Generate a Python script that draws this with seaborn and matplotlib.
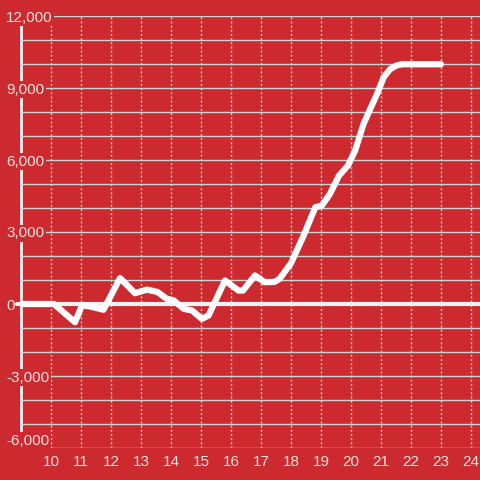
import numpy as np
import pandas as pd
import matplotlib
matplotlib.use("Agg")
import matplotlib.pyplot as plt
import seaborn as sns

# --- data ---
hours = [9.0, 10.1, 10.8, 11.03, 11.3, 11.75, 12.3, 12.8, 13.2, 13.55, 13.86,
         14.09, 14.42, 14.7, 15.03, 15.25, 15.8, 16.25, 16.4, 16.8, 17.12,
         17.45, 17.62, 18.0, 18.42, 18.81, 19.03, 19.3, 19.6, 19.9, 20.14,
         20.42, 20.87, 21.09, 21.3, 21.5, 21.7, 23.0]
values = [0, 0, -760, -60, -100, -240, 1080, 450, 600, 500, 215,
          150, -200, -270, -620, -480, 980, 560, 560, 1190, 910,
          920, 1050, 1700, 2850, 4030, 4100, 4590, 5350, 5770, 6400,
          7510, 8760, 9450, 9780, 9930, 9990, 9990]

x_ticks = list(range(10, 25))
y_ticks = [-6000, -3000, 0, 3000, 6000, 9000, 12000]
y_minor = list(range(-6000, 12001, 1000))
y_labels = [f"{v:,}" for v in y_ticks]

df = pd.DataFrame({"hour": hours, "value": values})

RED = "#CD2A30"
GRID = "#D2D2D2"
TXT = "#F3E3E3"

sns.set_style("white")
plt.rcParams["font.family"] = ["Liberation Sans", "DejaVu Sans"]

fig = plt.figure(figsize=(4.8, 4.8), dpi=100, facecolor=RED)
ax = fig.add_axes([21 / 480, 32 / 480, 459 / 480, 432 / 480])
ax.set_facecolor(RED)

sns.lineplot(data=df, x="hour", y="value", ax=ax, color="white", lw=4.5,
             solid_joinstyle="round", solid_capstyle="round", zorder=3)

# zero line sticks out a little past the y axis
ax.axhline(0, xmin=-4 / 459, xmax=1, color="#F2F2F2", lw=3, clip_on=False, zorder=1)

ax.set_xlim(9, 24.3)
ax.set_ylim(-6000, 12000)
ax.set_xticks(x_ticks)
ax.set_yticks(y_ticks)
ax.set_yticklabels(y_labels)
ax.set_yticks(y_minor, minor=True)
ax.set_xlabel("")
ax.set_ylabel("")

ax.set_axisbelow(True)
ax.grid(axis="x", which="major", linestyle=(0, (1.5, 1.5)), color=GRID, lw=1)
ax.grid(axis="y", which="both", linestyle="-", color=GRID, lw=1)

for s in ["top", "right", "bottom"]:
    ax.spines[s].set_visible(False)
ax.spines["left"].set_color("#F2F2F2")
ax.spines["left"].set_linewidth(2)
ax.spines["left"].set_zorder(0.3)

ax.tick_params(axis="both", which="both", length=0, labelsize=11, labelcolor=TXT)
ax.tick_params(axis="y", pad=10.8)
ax.tick_params(axis="x", pad=5)

for lab in ax.get_yticklabels():
    lab.set_horizontalalignment("left")
    lab.set_bbox(dict(facecolor=RED, edgecolor="none", boxstyle="square,pad=0.12"))
ax.get_yticklabels()[0].set_verticalalignment("bottom")

fig.savefig("out.png", dpi=100, facecolor=RED)
